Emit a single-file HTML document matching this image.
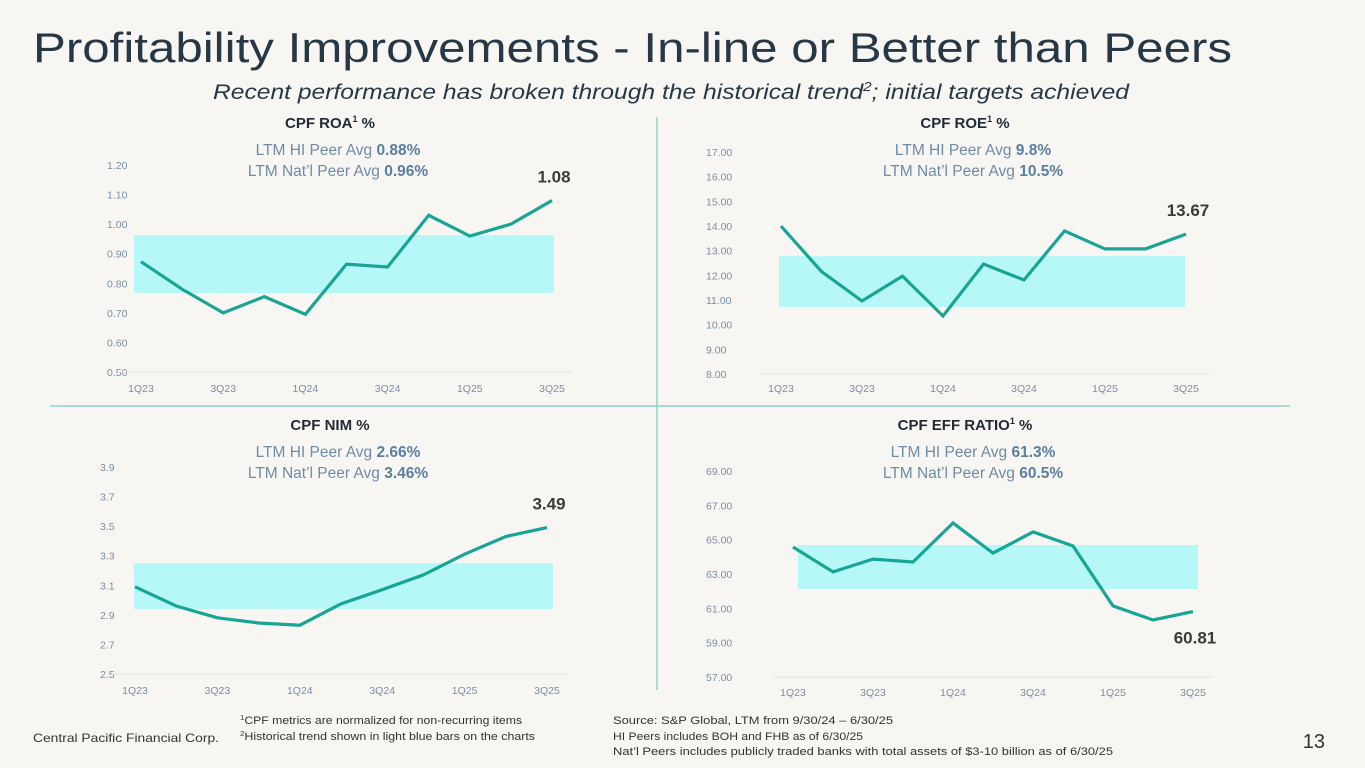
<!DOCTYPE html>
<html><head><meta charset="utf-8"><style>
html,body{margin:0;padding:0;background:#f8f6f3;}
svg{display:block;font-family:"Liberation Sans",sans-serif;}
</style></head><body>
<svg id="page" width="1365" height="768" viewBox="0 0 1365 768">
<rect width="1365" height="768" fill="#f8f6f3"/>
<text x="33" y="62" font-size="42" fill="#263746" textLength="1199" lengthAdjust="spacingAndGlyphs">Profitability Improvements - In-line or Better than Peers</text>
<text x="213" y="99" font-size="21" font-style="italic" fill="#263746" textLength="916" lengthAdjust="spacingAndGlyphs">Recent performance has broken through the historical trend<tspan font-size="13" dy="-8">2</tspan><tspan dy="8">; initial targets achieved</tspan></text>
<line x1="657" y1="117" x2="657" y2="690" stroke="#8fd3cb" stroke-width="1.5"/>
<line x1="50" y1="406" x2="1290" y2="406" stroke="#8fd3cb" stroke-width="1.5"/>
<g id="charts"></g>
<text x="33" y="742" font-size="12" fill="#333" textLength="186" lengthAdjust="spacingAndGlyphs">Central Pacific Financial Corp.</text>
<text x="240" y="724" font-size="11" fill="#333" textLength="282" lengthAdjust="spacingAndGlyphs"><tspan font-size="7" dy="-4">1</tspan><tspan dy="4">CPF metrics are normalized for non-recurring items</tspan></text>
<text x="240" y="740" font-size="11" fill="#333" textLength="295" lengthAdjust="spacingAndGlyphs"><tspan font-size="7" dy="-4">2</tspan><tspan dy="4">Historical trend shown in light blue bars on the charts</tspan></text>
<text x="613" y="724" font-size="11" fill="#333" textLength="280" lengthAdjust="spacingAndGlyphs">Source: S&amp;P Global, LTM from 9/30/24 – 6/30/25</text>
<text x="613" y="740" font-size="11" fill="#333" textLength="250" lengthAdjust="spacingAndGlyphs">HI Peers includes BOH and FHB as of 6/30/25</text>
<text x="613" y="755" font-size="11" fill="#333" textLength="500" lengthAdjust="spacingAndGlyphs">Nat’l Peers includes publicly traded banks with total assets of $3-10 billion as of 6/30/25</text>
<text x="1325" y="748" font-size="20" fill="#333" text-anchor="end">13</text>
</svg>
<script>
const categories = ["1Q23","2Q23","3Q23","4Q23","1Q24","2Q24","3Q24","4Q24","1Q25","2Q25","3Q25"];
const roaValues = [0.873,0.78,0.70,0.755,0.695,0.865,0.855,1.03,0.96,1.00,1.08];
const roeValues = [14.0,12.15,10.96,11.97,10.35,12.46,11.81,13.8,13.07,13.07,13.67];
const nimValues = [3.09,2.96,2.88,2.845,2.83,2.975,3.07,3.17,3.31,3.43,3.49];
const effValues = [64.57,63.12,63.87,63.7,65.97,64.22,65.45,64.63,61.14,60.32,60.81];
const roaBand = [0.767,0.963];
const roeBand = [10.72,12.78];
const nimBand = [2.94,3.25];
const effBand = [62.13,64.69];
const roaTicks = [0.5,0.6,0.7,0.8,0.9,1.0,1.1,1.2];
const roeTicks = [8,9,10,11,12,13,14,15,16,17];
const nimTicks = [2.5,2.7,2.9,3.1,3.3,3.5,3.7,3.9];
const effTicks = [57,59,61,63,65,67,69];
const roaLabel = "1.08", roeLabel = "13.67", nimLabel = "3.49", effLabel = "60.81";

const NS = "http://www.w3.org/2000/svg";
const root = document.getElementById("charts");
function mk(tag, attrs, parent){const e=document.createElementNS(NS,tag);for(const k in attrs)e.setAttribute(k,attrs[k]);(parent||root).appendChild(e);return e;}

const charts = [
 {id:"roa", title:"CPF ROA", sup:"1", tcx:330, hi:"0.88%", nat:"0.96%", vals:roaValues, band:roaBand, ticks:roaTicks, dec:2, label:roaLabel,
  x0:141, x1:552, yMin:0.5, yMax:1.2, yb:372, yt:165, bx0:134, bx1:554, tickX:107, axisL:118, axisR:572, catY:392, labelDy:-18},
 {id:"roe", title:"CPF ROE", sup:"1", tcx:965, hi:"9.8%", nat:"10.5%", vals:roeValues, band:roeBand, ticks:roeTicks, dec:2, label:roeLabel,
  x0:781, x1:1186, yMin:8, yMax:17, yb:374, yt:152, bx0:779, bx1:1185, tickX:706, axisL:760, axisR:1210, catY:392, labelDy:-18},
 {id:"nim", title:"CPF NIM %", sup:"", tcx:330, hi:"2.66%", nat:"3.46%", vals:nimValues, band:nimBand, ticks:nimTicks, dec:1, label:nimLabel,
  x0:135, x1:547, yMin:2.5, yMax:3.9, yb:674, yt:467, bx0:134, bx1:553, tickX:100, axisL:112, axisR:568, catY:694, labelDy:-18},
 {id:"eff", title:"CPF EFF RATIO", sup:"1", tcx:965, hi:"61.3%", nat:"60.5%", vals:effValues, band:effBand, ticks:effTicks, dec:2, label:effLabel,
  x0:793, x1:1193, yMin:57, yMax:69, yb:677, yt:471, bx0:798, bx1:1198, tickX:706, axisL:773, axisR:1213, catY:696, labelDy:32}
];

charts.forEach(c=>{
  const g = mk("g",{});
  
  
  const xs = i => c.x0 + (c.x1-c.x0)*i/(categories.length-1);
  const ys = v => c.yb - (v-c.yMin)/(c.yMax-c.yMin)*(c.yb-c.yt);
  const topY = c.id==="roa"||c.id==="roe" ? 128 : 430;
  const t = mk("text",{x:c.tcx,y:topY,"font-size":15,"font-weight":"bold",fill:"#1f2a36","text-anchor":"middle"},g);
  
  
  if(c.sup){ t.textContent = c.title; const s=mk("tspan",{"font-size":9,dy:-6},t); s.textContent=c.sup; const r=mk("tspan",{dy:6},t); r.textContent=" %"; }
  else t.textContent = c.title;
  const hiT = mk("text",{x:c.tcx+8,y:topY+27,"font-size":15.5,fill:"#6f8ba6","text-anchor":"middle"},g);
  
  
  hiT.textContent = "LTM HI Peer Avg ";
  const b1 = mk("tspan",{"font-weight":"bold",fill:"#5b7fa3"},hiT); b1.textContent=c.hi;
  const naT = mk("text",{x:c.tcx+8,y:topY+48,"font-size":15.5,fill:"#6f8ba6","text-anchor":"middle"},g);
  
  
  naT.textContent = "LTM Nat’l Peer Avg ";
  const b2 = mk("tspan",{"font-weight":"bold",fill:"#5b7fa3"},naT); b2.textContent=c.nat;
  c.ticks.forEach(v=>{
    const tk = mk("text",{x:c.tickX,y:ys(v)+4,"font-size":10.5,fill:"#7a8ea3"},g);
    
    
    tk.textContent = v.toFixed(c.dec);
  });
  const ax = mk("line",{x1:c.axisL,x2:c.axisR,y1:c.yb,y2:c.yb,stroke:"#e2e2e2","stroke-width":1},g);
  
  
  categories.forEach((cat,i)=>{
    if(i%2) return;
    const xl = mk("text",{x:xs(i),y:c.catY,"font-size":10.5,fill:"#7a8ea3","text-anchor":"middle"},g);
    
    
    xl.textContent = cat;
  });
  const band = mk("rect",{x:c.bx0,y:ys(c.band[1]),width:c.bx1-c.bx0,height:ys(c.band[0])-ys(c.band[1]),fill:"#b6f8f7"},g);
  
  
  const pts = c.vals.map((v,i)=>xs(i).toFixed(1)+","+ys(v).toFixed(1)).join(" ");
  const pl = mk("polyline",{points:pts,fill:"none",stroke:"#18a596","stroke-width":3.2,"stroke-linejoin":"miter"},g);
  
  
  const last = c.vals.length-1;
  const lb = mk("text",{x:xs(last)+2,y:ys(c.vals[last])+c.labelDy,"font-size":17,"font-weight":"bold",fill:"#3a3a3a","text-anchor":"middle"},g);
  
  
  lb.textContent = c.label;
});
</script>
</body></html>
